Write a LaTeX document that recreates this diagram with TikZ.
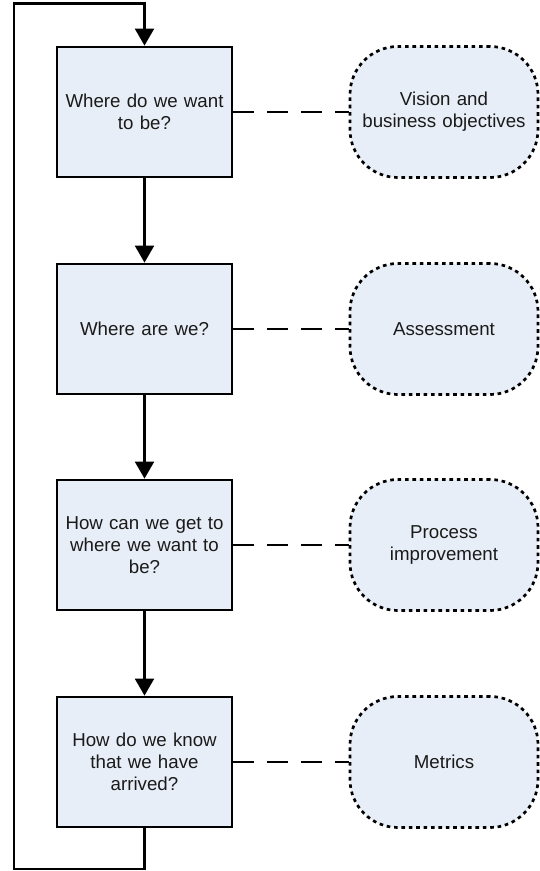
\documentclass[tikz,border=0pt]{standalone}
\usepackage{fontspec}
\setmainfont{Liberation Sans}
\usetikzlibrary{arrows.meta}
\definecolor{boxfill}{RGB}{232,238,247}
\definecolor{txt}{RGB}{26,26,26}
\begin{document}
\begin{tikzpicture}[x=1pt,y=-1pt,
  qbox/.style={draw=black, line width=2.8pt, fill=boxfill, minimum width=175pt, minimum height=130pt,
    align=center, text width=165pt, font=\fontsize{18.7}{22}\selectfont, text=txt, inner sep=0pt},
  rbox/.style={draw=black, line width=2.7pt, dash pattern=on 3.6pt off 3.8pt, fill=boxfill,
    rounded corners=48pt, minimum width=188pt, minimum height=131pt,
    align=center, text width=180pt, font=\fontsize{18.7}{22}\selectfont, text=txt, inner sep=0pt},
  flow/.style={line width=2.2pt, -{Triangle[length=17pt,width=19pt]}},
  link/.style={line width=2.7pt, dash pattern=on 21pt off 13pt}]
\useasboundingbox (0,0) rectangle (539,871);
\node[qbox] (q1) at (144.5,112) {Where do we want\\to be?};
\node[qbox] (q2) at (144.5,329) {Where are we?};
\node[qbox] (q3) at (144.5,545) {How can we get to\\where we want to\\be?};
\node[qbox] (q4) at (144.5,762) {How do we know\\that we have\\arrived?};
\node[rbox] (r1) at (444,112) {Vision and\\business objectives};
\node[rbox] (r2) at (444,329) {Assessment};
\node[rbox] (r3) at (444,545) {Process\\improvement};
\node[rbox] (r4) at (444,762) {Metrics};
\draw[flow] (q1) -- (q2);
\draw[flow] (q2) -- (q3);
\draw[flow] (q3) -- (q4);
\coordinate (b) at (144.5,869);
\coordinate (bl) at (14,869);
\coordinate (tl) at (14,3.5);
\coordinate (t) at (144.5,3.5);
\draw[flow] (q4.south) -- (b) -- (bl) -- (tl) -- (t) -- (q1.north);
\foreach \i in {1,2,3,4}{\draw[link] (q\i.east) -- (r\i.west);}
\end{tikzpicture}
\end{document}
